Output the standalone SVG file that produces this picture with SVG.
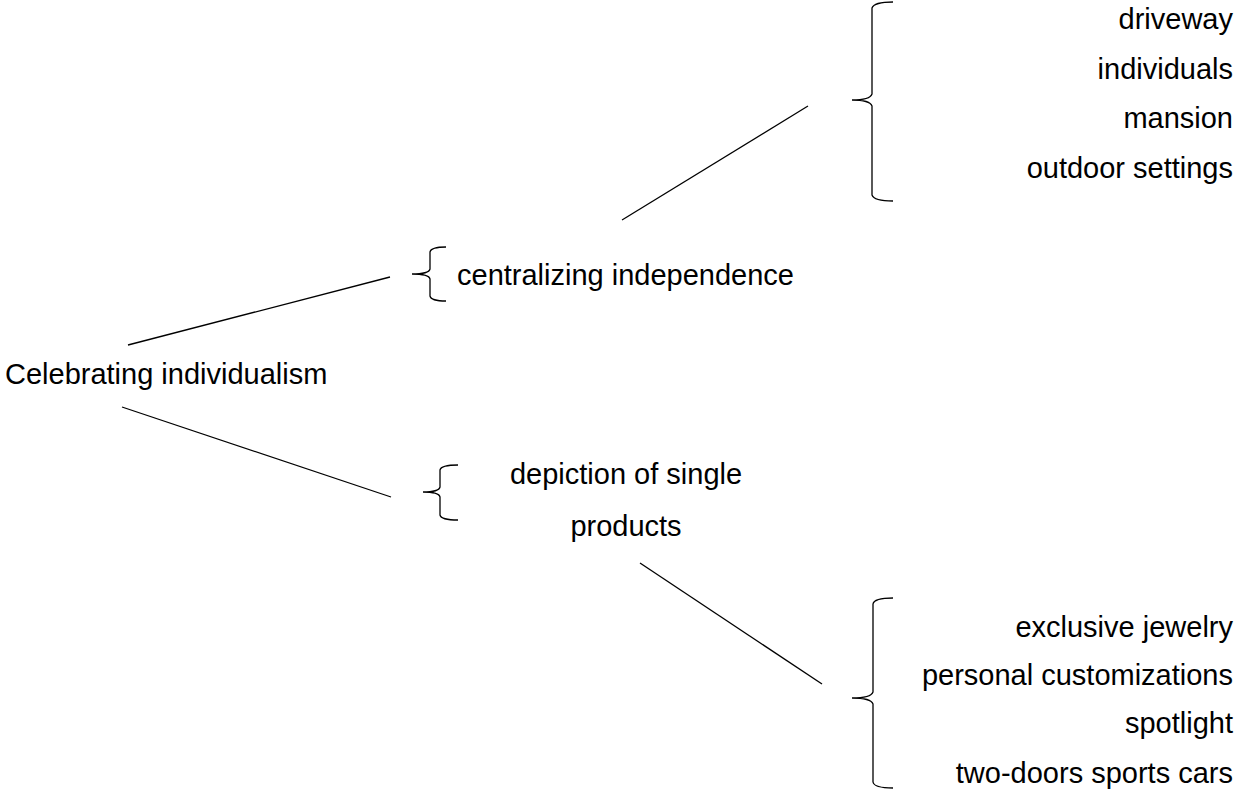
<svg xmlns="http://www.w3.org/2000/svg" width="1236" height="799" viewBox="0 0 1236 799">
  <style>
    .t { font-family: "Liberation Sans", Arial, sans-serif; font-size: 29px; fill: #000; }
    .r { text-anchor: end; }
    .m { text-anchor: middle; }
    .br, .ln { fill: none; stroke: #000; stroke-width: 1.3; }
  </style>
  <rect width="1236" height="799" fill="#fff"/>

  <g id="connectors">
    <line class="ln" x1="128" y1="345" x2="390" y2="277"/>
    <line class="ln" x1="122" y1="407" x2="391" y2="497"/>
    <line class="ln" x1="622" y1="220" x2="808" y2="106"/>
    <line class="ln" x1="640" y1="563" x2="822" y2="684"/>
  </g>

  <g id="root">
    <text class="t" x="5" y="384">Celebrating individualism</text>
  </g>

  <g id="centralizing">
    <path class="br" d="M446,247 Q431,247 430,252 L430,269 Q429,274 412,274 Q429,274 430,279 L430,296 Q431,301 446,301"/>
    <text class="t" x="457" y="285">centralizing independence</text>
  </g>

  <g id="depiction">
    <path class="br" d="M458,465 Q441,465 440,470 L440,487 Q439,492 423,492 Q439,492 440,497 L440,515 Q441,520 458,520"/>
    <text class="t m" x="626" y="484">depiction of single</text>
    <text class="t m" x="626" y="536">products</text>
  </g>

  <g id="settings">
    <path class="br" d="M893,2 Q874,2 872,8 L872,94 Q870,100 852,100 Q870,100 872,106 L872,195 Q874,201 893,201"/>
    <text class="t r" x="1233" y="29">driveway</text>
    <text class="t r" x="1233" y="79">individuals</text>
    <text class="t r" x="1233" y="128">mansion</text>
    <text class="t r" x="1233" y="178">outdoor settings</text>
  </g>

  <g id="products">
    <path class="br" d="M893,598 Q874,598 873,604 L873,692 Q871,698 852,698 Q871,698 873,704 L873,782 Q874,788 893,788"/>
    <text class="t r" x="1233" y="637">exclusive jewelry</text>
    <text class="t r" x="1233" y="685">personal customizations</text>
    <text class="t r" x="1233" y="733">spotlight</text>
    <text class="t r" x="1233" y="783">two-doors sports cars</text>
  </g>
</svg>
